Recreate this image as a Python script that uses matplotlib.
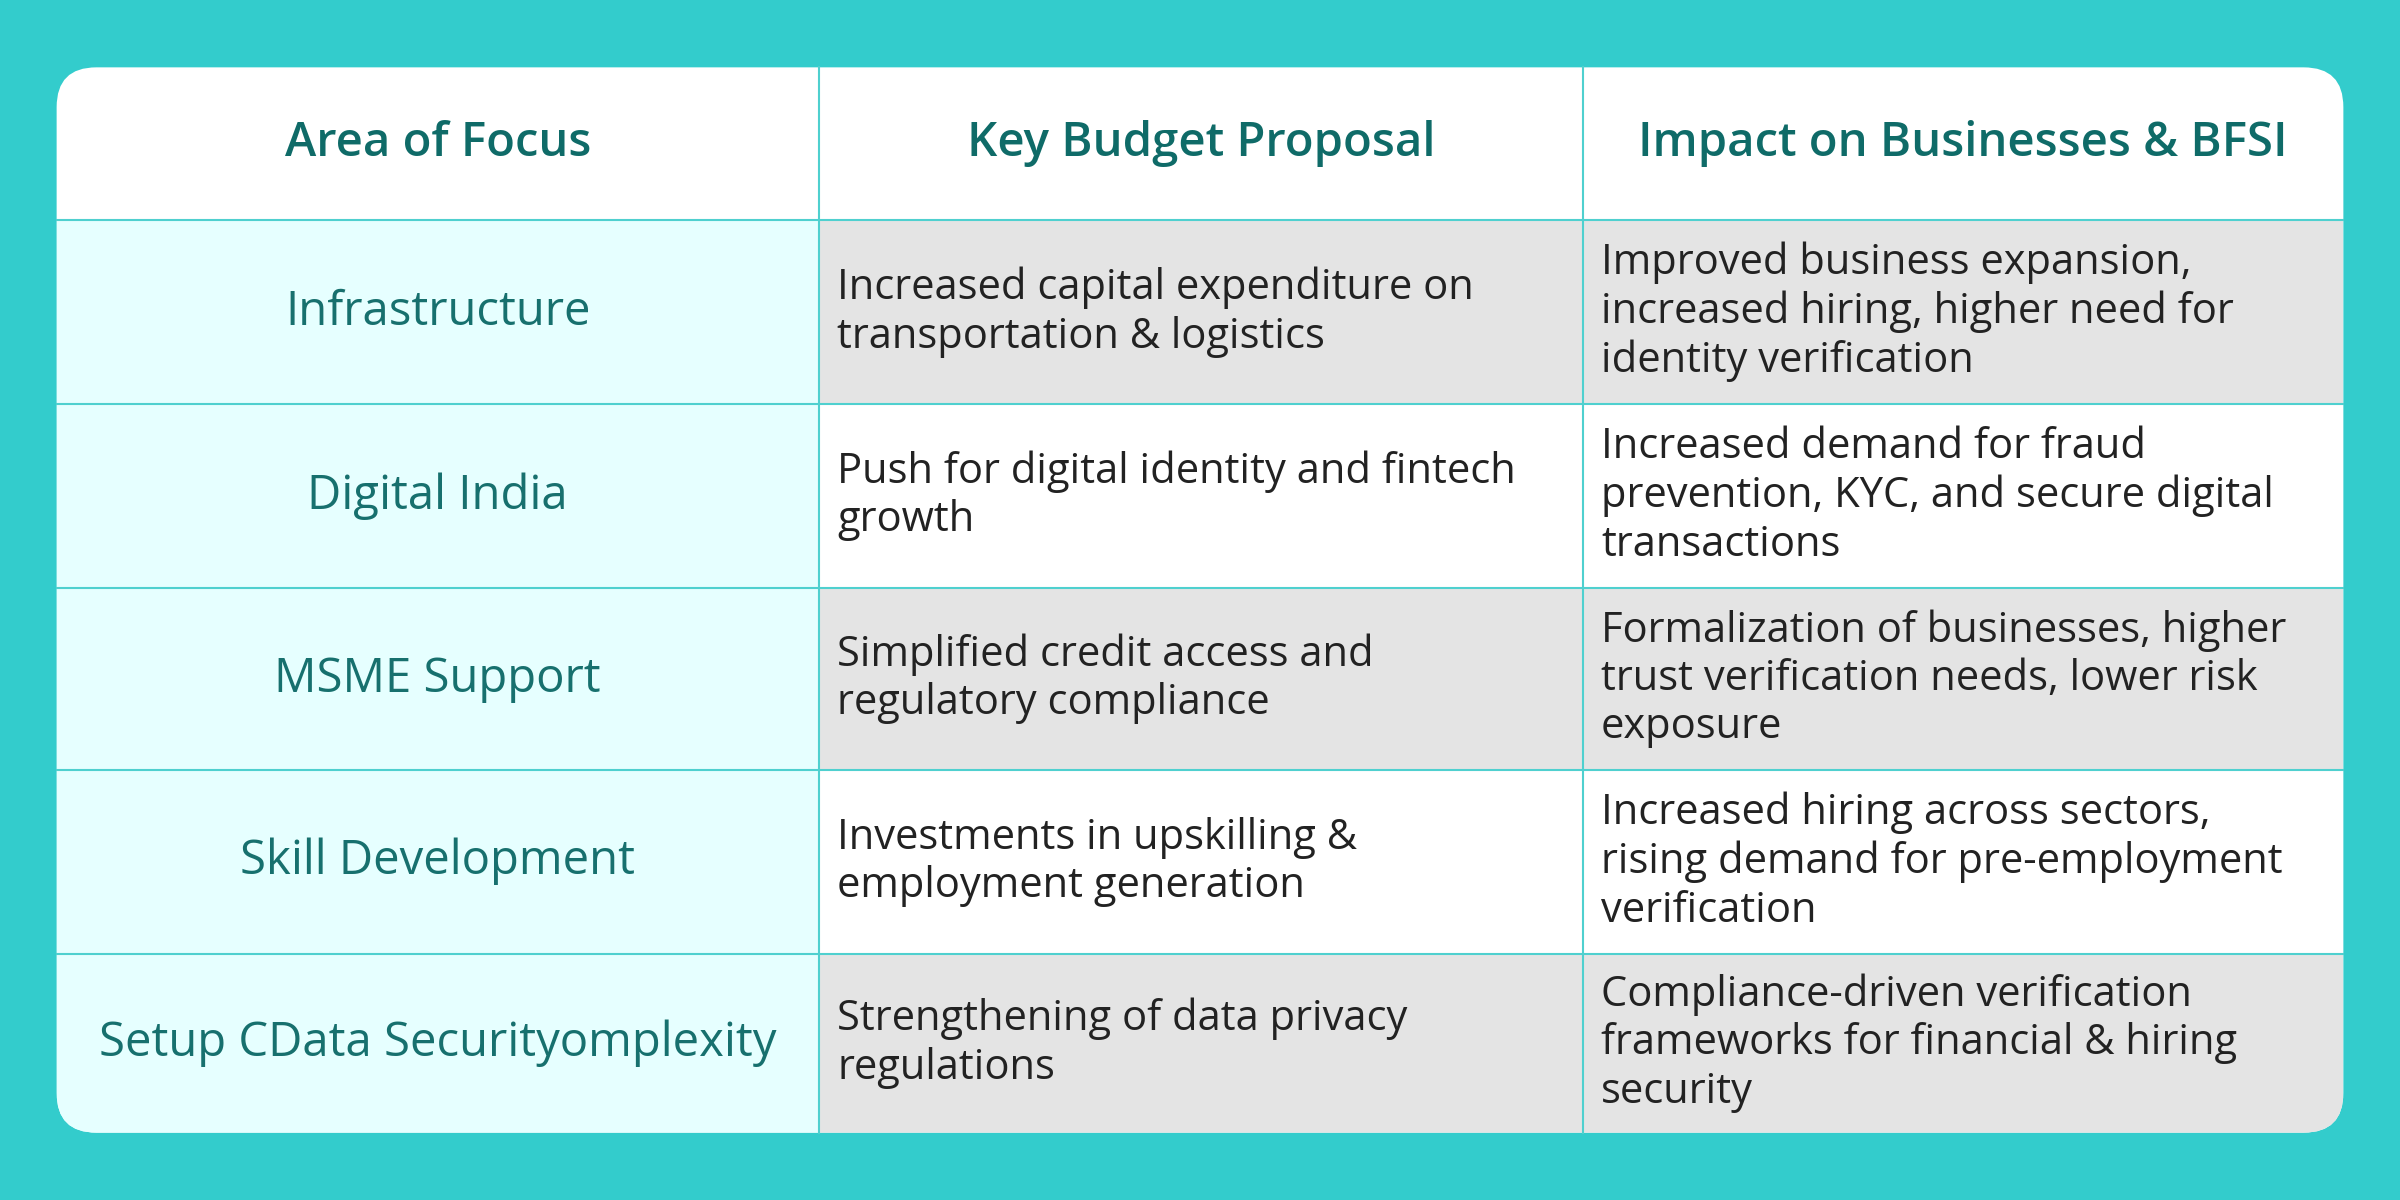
import matplotlib
matplotlib.use("Agg")
import matplotlib.pyplot as plt
from matplotlib.patches import FancyBboxPatch, Rectangle

headers = ["Area of Focus", "Key Budget Proposal", "Impact on Businesses & BFSI"]
areas = ["Infrastructure", "Digital India", "MSME Support", "Skill Development",
         "Setup CData Securityomplexity"]
proposals = ["Increased capital expenditure on\ntransportation & logistics",
             "Push for digital identity and fintech\ngrowth",
             "Simplified credit access and\nregulatory compliance",
             "Investments in upskilling &\nemployment generation",
             "Strengthening of data privacy\nregulations"]
impacts = ["Improved business expansion,\nincreased hiring, higher need for\nidentity verification",
           "Increased demand for fraud\nprevention, KYC, and secure digital\ntransactions",
           "Formalization of businesses, higher\ntrust verification needs, lower risk\nexposure",
           "Increased hiring across sectors,\nrising demand for pre-employment\nverification",
           "Compliance-driven verification\nframeworks for financial & hiring\nsecurity"]

BG = "#33CCCC"; TEAL = "#0F6B68"; LINE = "#4FD0CF"
FONT = "Open Sans"

fig = plt.figure(figsize=(24, 12), dpi=100, facecolor=BG)
ax = fig.add_axes([0, 0, 1, 1])
ax.set_xlim(0, 1568); ax.set_ylim(784, 0); ax.axis("off")

x0, x1, y0, y1 = 37, 1531, 44, 740
cols = [37, 535, 1034, 1531]
rows = [44, 144, 264, 384, 503, 623, 740]

card = FancyBboxPatch((x0, y0), x1 - x0, y1 - y0, boxstyle="round,pad=0,rounding_size=26",
                      fc="white", ec="none", zorder=1)
ax.add_patch(card)

for i in range(5):
    ya, yb = rows[i + 1], rows[i + 2]
    fills = ["#E6FFFF", "#E4E4E4" if i % 2 == 0 else "white", "#E4E4E4" if i % 2 == 0 else "white"]
    for j in range(3):
        r = Rectangle((cols[j], ya), cols[j + 1] - cols[j], yb - ya, fc=fills[j], ec="none", zorder=2)
        ax.add_patch(r); r.set_clip_path(card)

for y in rows[1:-1]:
    ax.plot([x0, x1], [y, y], color=LINE, lw=1.5, zorder=3)
for x in cols[1:-1]:
    ax.plot([x, x], [y0, y1], color=LINE, lw=1.5, zorder=3)

for j, h in enumerate(headers):
    ax.text((cols[j] + cols[j + 1]) / 2, 94, h, ha="center", va="center", fontsize=34,
            fontweight="semibold", color=TEAL, family=FONT, zorder=4)

for i in range(5):
    yc = (rows[i + 1] + rows[i + 2]) / 2
    ax.text(286, yc, areas[i], ha="center", va="center", fontsize=34, color="#17706E",
            family=FONT, zorder=4)
    ax.text(547, yc, proposals[i], ha="left", va="center", fontsize=30, color="#222222",
            family=FONT, linespacing=1.2, zorder=4)
    ax.text(1046, yc, impacts[i], ha="left", va="center", fontsize=30, color="#222222",
            family=FONT, linespacing=1.2, zorder=4)

fig.savefig("out.png", dpi=100, facecolor=BG)
